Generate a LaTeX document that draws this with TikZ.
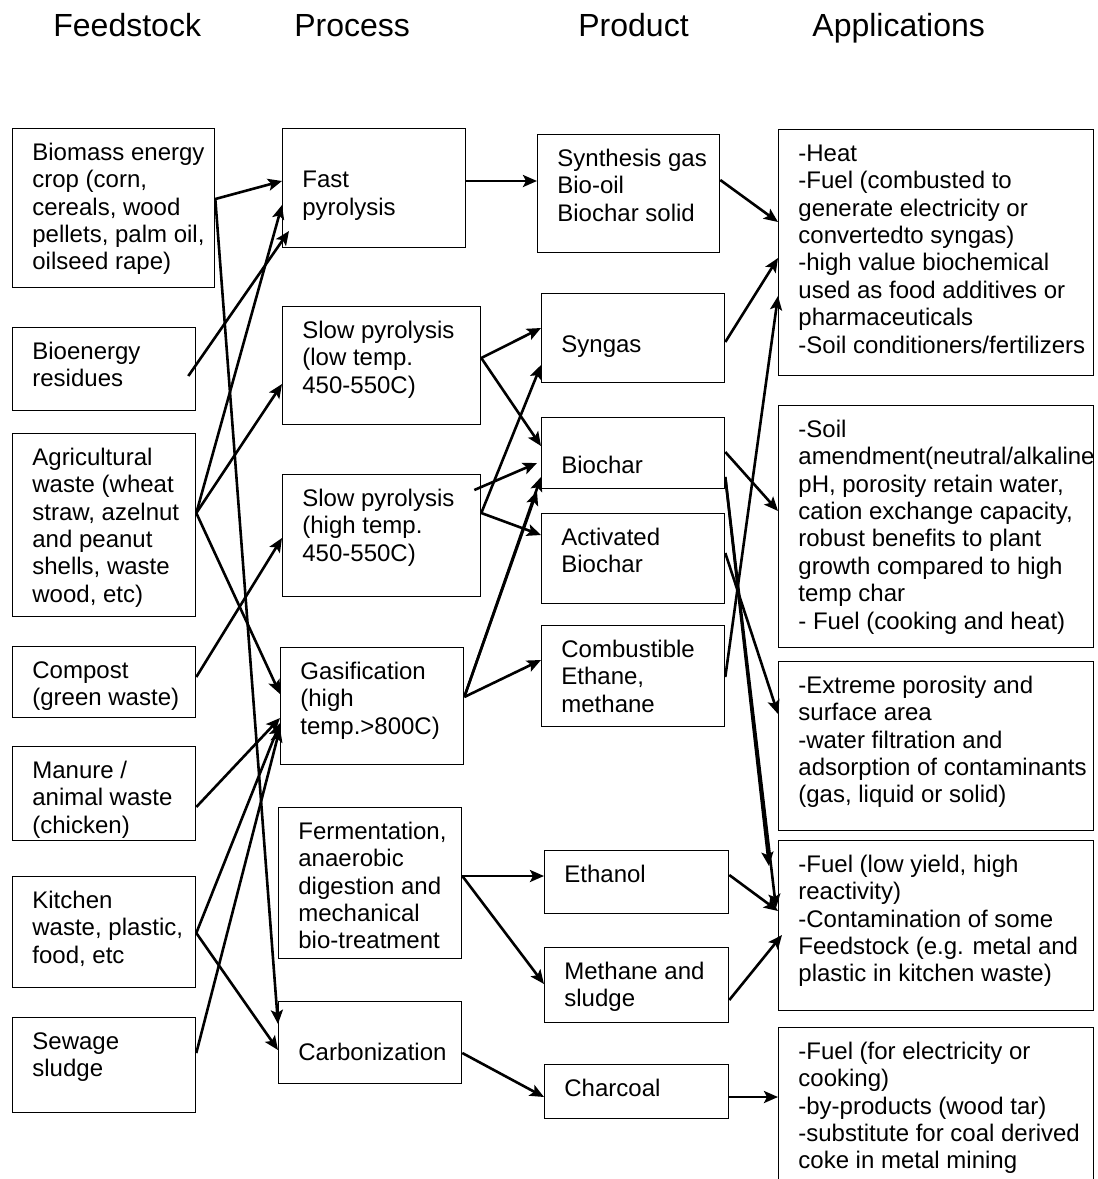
\documentclass[tikz,border=0pt]{standalone}
\usepackage{fontspec}
\setmainfont{Liberation Sans}
\usetikzlibrary{arrows.meta}

\tikzset{
  box/.style={draw, line width=0.65pt, anchor=north west, inner sep=0pt},
  txt/.style={anchor=north west, inner sep=0pt, align=left, xshift=10pt, yshift=-6.4pt},
  head/.style={anchor=base west, inner sep=0pt, font=\fontsize{16}{19}\selectfont},
  arr/.style={-{Stealth[length=7pt,width=6pt,inset=1.5pt]}, line width=1.3pt},
}

\begin{document}
\fontsize{12}{13.7}\selectfont
\begin{tikzpicture}[x=0.5pt, y=-0.5pt]
  \useasboundingbox (0,0) rectangle (1098,1179);
  \clip (0,0) rectangle (1098,1179);

  % column titles
  \node[head] (hfeed) at (53,36) {Feedstock};
  \node[head] (hproc) at (294,36) {Process};
  \node[head] (hprod) at (578,36) {Product};
  \node[head] (happ) at (812,36) {Applications};

  % feedstock
  \node[box, minimum width=101pt, minimum height=79.5pt] (f1) at (12,128) {};
  \node[txt] (f1t) at (f1.north west) {\strut Biomass energy\\crop (corn,\\cereals, wood\\pellets, palm oil,\\oilseed rape)};
  \node[box, minimum width=91.5pt, minimum height=41.5pt] (f2) at (12,327) {};
  \node[txt] (f2t) at (f2.north west) {\strut Bioenergy\\residues};
  \node[box, minimum width=91.5pt, minimum height=91.5pt] (f3) at (12,433) {};
  \node[txt] (f3t) at (f3.north west) {\strut Agricultural\\waste (wheat\\straw, azelnut\\and peanut\\shells, waste\\wood, etc)};
  \node[box, minimum width=91.5pt, minimum height=35.5pt] (f4) at (12,646) {};
  \node[txt] (f4t) at (f4.north west) {\strut Compost\\(green waste)};
  \node[box, minimum width=91.5pt, minimum height=47pt] (f5) at (12,746) {};
  \node[txt] (f5t) at (f5.north west) {\strut Manure /\\animal waste\\(chicken)};
  \node[box, minimum width=91.5pt, minimum height=55.5pt] (f6) at (12,876) {};
  \node[txt] (f6t) at (f6.north west) {\strut Kitchen\\waste, plastic,\\food, etc};
  \node[box, minimum width=91.5pt, minimum height=47.5pt] (f7) at (12,1017) {};
  \node[txt] (f7t) at (f7.north west) {\strut Sewage\\sludge};

  % process
  \node[box, minimum width=91.5pt, minimum height=59.5pt] (p1) at (282,128) {};
  \node[txt] (p1t) at (p1.north west) {\strut\\Fast\\pyrolysis};
  \node[box, minimum width=99pt, minimum height=59pt] (p2) at (282,306) {};
  \node[txt] (p2t) at (p2.north west) {\strut Slow pyrolysis\\(low temp.\\450-550C)};
  \node[box, minimum width=99pt, minimum height=61pt] (p3) at (282,474) {};
  \node[txt] (p3t) at (p3.north west) {\strut Slow pyrolysis\\(high temp.\\450-550C)};
  \node[box, minimum width=91.5pt, minimum height=58.5pt] (p4) at (280,647) {};
  \node[txt] (p4t) at (p4.north west) {\strut Gasification\\(high\\temp.>800C)};
  \node[box, minimum width=91.5pt, minimum height=75.5pt] (p5) at (278,807) {};
  \node[txt] (p5t) at (p5.north west) {\strut Fermentation,\\anaerobic\\digestion and\\mechanical\\bio-treatment};
  \node[box, minimum width=91.5pt, minimum height=41pt] (p6) at (278,1001) {};
  \node[txt] (p6t) at (p6.north west) {\strut\\Carbonization};

  % product
  \node[box, minimum width=91pt, minimum height=59pt] (r1) at (537,134) {};
  \node[txt] (r1t) at (r1.north west) {\strut Synthesis gas\\Bio-oil\\Biochar solid};
  \node[box, minimum width=91.5pt, minimum height=44.5pt] (r2) at (541,293) {};
  \node[txt] (r2t) at (r2.north west) {\strut\\Syngas};
  \node[box, minimum width=91.5pt, minimum height=35.5pt] (r3) at (541,417) {};
  \node[txt, yshift=1.5pt] (r3t) at (r3.north west) {\strut\\Biochar};
  \node[box, minimum width=91.5pt, minimum height=45pt] (r4) at (541,513) {};
  \node[txt] (r4t) at (r4.north west) {\strut Activated\\Biochar};
  \node[box, minimum width=91.5pt, minimum height=50.5pt] (r5) at (541,625) {};
  \node[txt] (r5t) at (r5.north west) {\strut Combustible\\Ethane,\\methane};
  \node[box, minimum width=92pt, minimum height=31.5pt] (r6) at (544,850) {};
  \node[txt] (r6t) at (r6.north west) {\strut Ethanol};
  \node[box, minimum width=92pt, minimum height=37.5pt] (r7) at (544,947) {};
  \node[txt] (r7t) at (r7.north west) {\strut Methane and\\sludge};
  \node[box, minimum width=92pt, minimum height=27pt] (r8) at (544,1064) {};
  \node[txt] (r8t) at (r8.north west) {\strut Charcoal};

  % applications
  \node[box, minimum width=157.5pt, minimum height=123pt] (a1) at (778,129) {};
  \node[txt] (a1t) at (a1.north west) {\strut -Heat\\-Fuel (combusted to\\generate electricity or\\convertedto syngas)\\-high value biochemical\\used as food additives or\\pharmaceuticals\\-Soil conditioners/fertilizers};
  \node[box, minimum width=157.5pt, minimum height=121pt] (a2) at (778,405) {};
  \node[txt] (a2t) at (a2.north west) {\strut -Soil\\amendment(neutral/alkaline\\pH, porosity retain water,\\cation exchange capacity,\\robust benefits to plant\\growth compared to high\\temp char\\- Fuel (cooking and heat)};
  \node[box, minimum width=157.5pt, minimum height=84.5pt] (a3) at (778,661) {};
  \node[txt] (a3t) at (a3.north west) {\strut -Extreme porosity and\\surface area\\-water filtration and\\adsorption of contaminants\\(gas, liquid or solid)};
  \node[box, minimum width=157.5pt, minimum height=85pt] (a4) at (778,840) {};
  \node[txt] (a4t) at (a4.north west) {\strut -Fuel (low yield, high\\reactivity)\\-Contamination of some\\Feedstock (e.g. metal and\\plastic in kitchen waste)};
  \node[box, minimum width=157.5pt, minimum height=90pt] (a5) at (778,1027) {};
  \node[txt] (a5t) at (a5.north west) {\strut -Fuel (for electricity or\\cooking)\\-by-products (wood tar)\\-substitute for coal derived\\coke in metal mining};

  % feedstock -> process
  \draw[arr] (f1.east |- 0,199) -- (p1.west |- 0,181);
  \draw[arr] (f1.east |- 0,199) -- (p6.west |- 0,1024);
  \draw[arr] ([xshift=-4pt]f2.east |- 0,376) -- ([xshift=3.5pt]p1.west |- 0,231);
  \draw[arr] (f3.east |- 0,513) -- (p1.west |- 0,205);
  \draw[arr] (f3.east |- 0,513) -- (p2.west |- 0,384);
  \draw[arr] (f3.east |- 0,513) -- (p4.west |- 0,694);
  \draw[arr] (f4.east |- 0,677) -- (p3.west |- 0,538);
  \draw[arr] (f5.east |- 0,807) -- (p4.west |- 0,718);
  \draw[arr] (f6.east |- 0,933) -- (p4.west |- 0,723);
  \draw[arr] (f6.east |- 0,933) -- (p6.west |- 0,1050);
  \draw[arr] (f7.east |- 0,1053) -- (p4.west |- 0,728);

  % process -> product
  \draw[arr] (p1.east |- 0,181) -- (r1.west |- 0,181);
  \draw[arr] (p2.east |- 0,358) -- (r2.west |- 0,328);
  \draw[arr] (p2.east |- 0,358) -- (r3.west |- 0,446);
  \draw[arr] (p3.east |- 0,513) -- (r2.west |- 0,365);
  \draw[arr] ([xshift=-3.5pt]p3.east |- 0,490) -- ([xshift=-2pt]r3.west |- 0,463);
  \draw[arr] (p3.east |- 0,513) -- (r4.west |- 0,535);
  \draw[arr] (p4.east |- 0,697) -- (r3.west |- 0,477);
  \draw[arr] (p4.east |- 0,697) -- ([xshift=-2pt]r3.west |- 0,491);
  \draw[arr] (p4.east |- 0,697) -- (r5.west |- 0,660);
  \draw[arr] (p5.east |- 0,876) -- (r6.west |- 0,876);
  \draw[arr] (p5.east |- 0,876) -- (r7.west |- 0,984);
  \draw[arr] (p6.east |- 0,1053) -- (r8.west |- 0,1097);

  % product -> applications
  \draw[arr] (r1.east |- 0,180) -- (a1.west |- 0,222);
  \draw[arr] (r2.east |- 0,342) -- (a1.west |- 0,258);
  \draw[arr] (r5.east |- 0,677) -- (a1.west |- 0,296);
  \draw[arr] (r3.east |- 0,452) -- (a2.west |- 0,511);
  \draw[arr] (r3.east |- 0,477) -- ([xshift=-4.5pt]a4.west |- 0,866);
  \draw[arr] (r3.east |- 0,477) -- ([xshift=-1pt]a4.west |- 0,908);
  \draw[arr] (r4.east |- 0,553) -- (a3.west |- 0,714);
  \draw[arr] (r6.east |- 0,875) -- (a4.west |- 0,911);
  \draw[arr] (r7.east |- 0,1000) -- ([xshift=2pt]a4.west |- 0,935);
  \draw[arr] (r8.east |- 0,1097) -- (a5.west |- 0,1097);
\end{tikzpicture}
\end{document}
